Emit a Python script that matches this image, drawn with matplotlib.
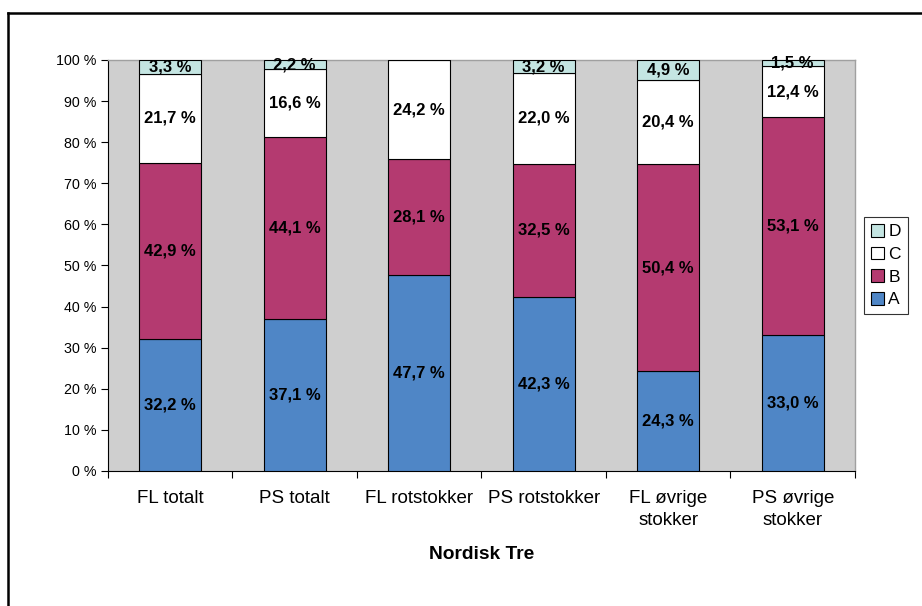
import numpy as np
import matplotlib.pyplot as plt
from matplotlib.lines import Line2D
from matplotlib.patches import Patch

plt.rcParams['font.family'] = ['Liberation Sans', 'DejaVu Sans']

# Andeler per kategori (prosent)
kategorier = ['FL totalt', 'PS totalt', 'FL rotstokker', 'PS rotstokker',
              'FL øvrige\nstokker', 'PS øvrige\nstokker']
A = [32.2, 37.1, 47.7, 42.3, 24.3, 33.0]
B = [42.9, 44.1, 28.1, 32.5, 50.4, 53.1]
C = [21.7, 16.6, 24.2, 22.0, 20.4, 12.4]
D = [3.3, 2.2, 0.0, 3.2, 4.9, 1.5]

serier = ['A', 'B', 'C', 'D']
farger = ['#4F86C6', '#B43A70', '#FFFFFF', '#C4E5E2']
verdier = np.array([A, B, C, D])
# 100 % stablet: normaliser hver stolpe
andel = verdier / verdier.sum(axis=0) * 100

fig = plt.figure(figsize=(9.22, 6.06), dpi=100)
ax = fig.add_axes([0.1171, 0.2228, 0.8102, 0.6782])
ax.set_facecolor('#CFCFCF')

x = np.arange(len(kategorier))
bunn = np.zeros(len(kategorier))
for i, navn in enumerate(serier):
    ax.bar(x, andel[i], 0.5, bottom=bunn, color=farger[i],
           edgecolor='black', linewidth=0.8, label=navn, zorder=3)
    for j in range(len(kategorier)):
        if verdier[i, j] > 0:
            tekst = f'{verdier[i, j]:.1f}'.replace('.', ',') + ' %'
            ax.text(x[j], bunn[j] + andel[i, j] / 2, tekst, ha='center',
                    va='center', fontsize=12, fontweight='bold', zorder=4)
    bunn += andel[i]

ax.set_xlim(-0.5, len(kategorier) - 0.5)
ax.set_ylim(0, 100)
ax.set_yticks(np.arange(0, 101, 10))
ax.set_yticklabels([f'{v} %' for v in range(0, 101, 10)], fontsize=10.3)
ax.set_xticks(x)
ax.set_xticklabels(kategorier, fontsize=13.5, linespacing=1.35)
ax.set_xticks(np.arange(-0.5, len(kategorier)), minor=True)
ax.tick_params(axis='x', which='major', length=0, pad=14)
ax.tick_params(axis='x', which='minor', length=5, width=0.8, direction='out')
ax.tick_params(axis='y', length=5, width=0.8, direction='out', pad=3)
ax.set_xlabel('Nordisk Tre', fontsize=13.8, fontweight='bold', labelpad=12)

for s in ['top', 'right']:
    ax.spines[s].set_color('#A0A0A0')
    ax.spines[s].set_linewidth(1.0)
for s in ['left', 'bottom']:
    ax.spines[s].set_color('black')
    ax.spines[s].set_linewidth(0.8)

handles = [Patch(facecolor=farger[i], edgecolor='black', linewidth=0.8)
           for i in range(3, -1, -1)]
leg = fig.legend(handles, serier[::-1], loc='upper left',
                 bbox_to_anchor=(864 / 922, 1 - 217 / 606), fontsize=12.5,
                 frameon=True, fancybox=False, edgecolor='black',
                 handlelength=0.75, handleheight=0.75, handletextpad=0.25,
                 borderpad=0.4, labelspacing=0.42, borderaxespad=0)
leg.get_frame().set_linewidth(0.8)

# Ramme rundt diagrammet
fig.add_artist(Line2D([8 / 922, 1], [1 - 13 / 606, 1 - 13 / 606],
                      color='black', linewidth=1.8))
fig.add_artist(Line2D([8 / 922, 8 / 922], [0, 1 - 13 / 606],
                      color='black', linewidth=1.8))

fig.savefig('out.png', dpi=100)
